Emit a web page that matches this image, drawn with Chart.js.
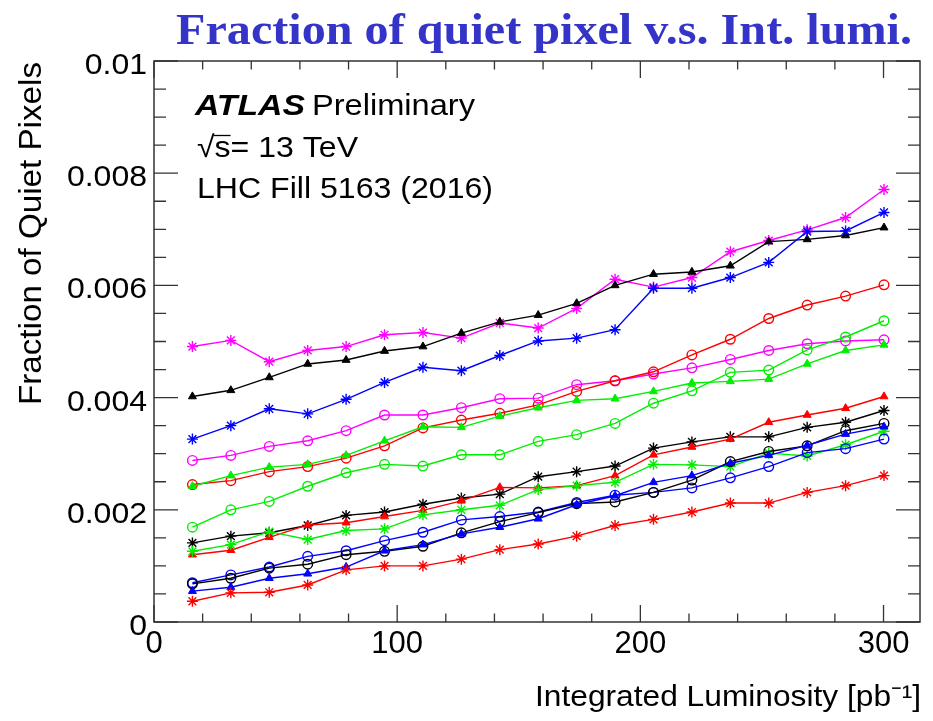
<!DOCTYPE html>
<html>
<head>
<meta charset="utf-8">
<script src="https://cdn.jsdelivr.net/npm/chart.js@4.4.1/dist/chart.umd.min.js"></script>
<style>
  html, body { margin: 0; padding: 0; background: #fff; }
  canvas { display: block; }
</style>
</head>
<body>
<canvas id="quietChart" width="933" height="721"></canvas>
<script>
// integrated luminosity [pb^-1]
const lumi = [15.8, 31.6, 47.4, 63.2, 79.0, 94.8, 110.6, 126.4, 142.2, 158.0,
              173.8, 189.6, 205.4, 221.2, 237.0, 252.8, 268.6, 284.4, 300.2];

// fraction of quiet pixels, one list per graph
const magentaStar   = [0.00491, 0.00502, 0.00464, 0.00484, 0.00491, 0.00512, 0.00516, 0.00506, 0.00533, 0.00524, 0.00559, 0.00611, 0.00597, 0.00614, 0.00660, 0.00680, 0.00699, 0.00721, 0.00771];
const blackTriangle = [0.00402, 0.00413, 0.00436, 0.00460, 0.00467, 0.00483, 0.00491, 0.00515, 0.00535, 0.00547, 0.00568, 0.00600, 0.00620, 0.00624, 0.00635, 0.00678, 0.00682, 0.00689, 0.00703];
const blueStar      = [0.00326, 0.00350, 0.00380, 0.00371, 0.00397, 0.00427, 0.00454, 0.00448, 0.00475, 0.00501, 0.00506, 0.00521, 0.00595, 0.00595, 0.00614, 0.00641, 0.00696, 0.00697, 0.00730];
const redCircle     = [0.00245, 0.00252, 0.00268, 0.00277, 0.00292, 0.00314, 0.00346, 0.00360, 0.00372, 0.00387, 0.00411, 0.00430, 0.00446, 0.00476, 0.00504, 0.00541, 0.00565, 0.00581, 0.00601];
const magentaCircle = [0.00288, 0.00297, 0.00313, 0.00323, 0.00341, 0.00369, 0.00369, 0.00382, 0.00398, 0.00399, 0.00423, 0.00430, 0.00442, 0.00453, 0.00468, 0.00484, 0.00496, 0.00501, 0.00503];
const greenTriangle = [0.00242, 0.00261, 0.00276, 0.00281, 0.00297, 0.00323, 0.00348, 0.00347, 0.00367, 0.00382, 0.00395, 0.00398, 0.00411, 0.00426, 0.00429, 0.00433, 0.00460, 0.00484, 0.00494];
const greenCircle   = [0.00169, 0.00200, 0.00215, 0.00242, 0.00266, 0.00281, 0.00278, 0.00298, 0.00298, 0.00322, 0.00334, 0.00354, 0.00390, 0.00412, 0.00445, 0.00449, 0.00485, 0.00508, 0.00537];
const blackStar     = [0.00141, 0.00153, 0.00159, 0.00172, 0.00190, 0.00196, 0.00210, 0.00221, 0.00228, 0.00259, 0.00268, 0.00278, 0.00310, 0.00321, 0.00330, 0.00330, 0.00347, 0.00356, 0.00377];
const redTriangle   = [0.00120, 0.00128, 0.00151, 0.00173, 0.00177, 0.00188, 0.00199, 0.00216, 0.00240, 0.00239, 0.00243, 0.00261, 0.00298, 0.00312, 0.00326, 0.00356, 0.00369, 0.00381, 0.00402];
const greenStar     = [0.00126, 0.00138, 0.00161, 0.00147, 0.00163, 0.00166, 0.00191, 0.00200, 0.00208, 0.00236, 0.00243, 0.00249, 0.00281, 0.00280, 0.00277, 0.00301, 0.00296, 0.00316, 0.00340];
const blueCircle    = [0.00070, 0.00084, 0.00098, 0.00117, 0.00127, 0.00145, 0.00160, 0.00182, 0.00188, 0.00196, 0.00213, 0.00226, 0.00231, 0.00239, 0.00257, 0.00277, 0.00302, 0.00309, 0.00326];
const blackCircle   = [0.00068, 0.00078, 0.00096, 0.00103, 0.00120, 0.00126, 0.00135, 0.00159, 0.00179, 0.00195, 0.00211, 0.00214, 0.00231, 0.00253, 0.00286, 0.00304, 0.00314, 0.00341, 0.00354];
const blueTriangle  = [0.00055, 0.00062, 0.00078, 0.00086, 0.00098, 0.00127, 0.00138, 0.00157, 0.00169, 0.00184, 0.00209, 0.00225, 0.00249, 0.00261, 0.00283, 0.00297, 0.00315, 0.00335, 0.00348];
const redStar       = [0.00037, 0.00052, 0.00053, 0.00066, 0.00093, 0.00100, 0.00100, 0.00112, 0.00129, 0.00139, 0.00153, 0.00172, 0.00183, 0.00196, 0.00212, 0.00212, 0.00231, 0.00243, 0.00261];

// axis ticks
const xTickValues = [0, 100, 200, 300];
const xTickLabels = ['0', '100', '200', '300'];
const yTickValues = [0, 0.002, 0.004, 0.006, 0.008, 0.01];
const yTickLabels = ['0', '0.002', '0.004', '0.006', '0.008', '0.01'];

const SANS = "'Liberation Sans', Arial, Helvetica, sans-serif";
const SX = 1.067; // the picture is a bit wider than tall

function graph(values, color, marker) {
  return {
    data: lumi.map((x, i) => ({ x: x, y: values[i] })),
    borderColor: color,
    borderWidth: 1.4,
    pointStyle: marker,
    pointRadius: marker === 'triangle' ? 4.6 : marker === 'star' ? 5.5 : 4.8,
    pointBorderWidth: marker === 'triangle' ? 1 : 1.4,
    pointBorderColor: color,
    pointBackgroundColor: marker === 'triangle' ? color : 'rgba(0,0,0,0)',
    fill: false,
    tension: 0
  };
}

function stretchText(ctx, text, x, y, font, sx, align) {
  ctx.save();
  ctx.font = font;
  ctx.translate(x, y);
  ctx.scale(sx, 1);
  ctx.textAlign = align || 'left';
  ctx.textBaseline = 'alphabetic';
  ctx.fillText(text, 0, 0);
  ctx.restore();
}

function fitText(ctx, text, x, y, font, width, align) {
  ctx.font = font;
  const w = ctx.measureText(text).width;
  stretchText(ctx, text, x, y, font, width / w, align);
}

const rootFrame = {
  id: 'rootFrame',
  beforeDraw(chart) {
    const ctx = chart.ctx;
    ctx.save();
    ctx.fillStyle = '#fff';
    ctx.fillRect(0, 0, chart.width, chart.height);
    ctx.restore();
  },
  afterDraw(chart) {
    const ctx = chart.ctx;
    const a = chart.chartArea;
    const xs = chart.scales.x;
    const ys = chart.scales.y;
    ctx.save();

    // frame
    ctx.strokeStyle = '#333';
    ctx.lineWidth = 1.5;
    ctx.strokeRect(a.left, a.top, a.right - a.left, a.bottom - a.top);

    // x ticks, bottom and top, pointing inward
    ctx.lineWidth = 1.3;
    ctx.beginPath();
    for (let v = 0; v <= xs.max + 0.01; v += 20) {
      const px = xs.getPixelForValue(v);
      const len = v % 100 === 0 ? 17 : 8.5;
      ctx.moveTo(px, a.bottom); ctx.lineTo(px, a.bottom - len);
      ctx.moveTo(px, a.top); ctx.lineTo(px, a.top + len);
    }
    // y ticks, left and right
    for (let k = 0; k <= 20; k++) {
      const v = k * 0.0005;
      const py = ys.getPixelForValue(v);
      const len = k % 4 === 0 ? 24 : 12;
      ctx.moveTo(a.left, py); ctx.lineTo(a.left + len, py);
      ctx.moveTo(a.right, py); ctx.lineTo(a.right - len, py);
    }
    ctx.stroke();

    ctx.fillStyle = '#000';
    // y tick labels
    yTickValues.forEach((v, i) => {
      const py = ys.getPixelForValue(v);
      stretchText(ctx, yTickLabels[i], a.left - 7, py + 13, '30px ' + SANS, SX, 'right');
    });
    // x tick labels
    xTickValues.forEach((v, i) => {
      const px = xs.getPixelForValue(v);
      stretchText(ctx, xTickLabels[i], px, a.bottom + 31, '31px ' + SANS, 1.0, 'center');
    });

    // axis titles
    fitText(ctx, 'Integrated Luminosity [pb\u207B\u00B9]', 921, 706, '30px ' + SANS, 386, 'right');
    ctx.save();
    ctx.translate(41, 405);
    ctx.rotate(-Math.PI / 2);
    fitText(ctx, 'Fraction of Quiet Pixels', 0, 0, '32px ' + SANS, 343, 'left');
    ctx.restore();

    // ATLAS label
    fitText(ctx, 'ATLAS', 195, 115, 'italic bold 30px ' + SANS, 110, 'left');
    fitText(ctx, 'Preliminary', 312, 115, '30px ' + SANS, 163, 'left');
    ctx.font = '30px ' + SANS;
    const rootW = ctx.measureText('\u221A').width * SX;
    const sW = ctx.measureText('s').width * SX;
    fitText(ctx, '\u221As= 13 TeV', 197, 157, '30px ' + SANS, 161, 'left');
    ctx.lineWidth = 1.3;
    ctx.strokeStyle = '#000';
    ctx.beginPath();
    ctx.moveTo(197 + rootW - 1, 135.5);
    ctx.lineTo(197 + rootW + sW, 135.5);
    ctx.stroke();
    fitText(ctx, 'LHC Fill 5163 (2016)', 197, 198, '30px ' + SANS, 296, 'left');

    // page title
    ctx.fillStyle = '#3434c8';
    fitText(ctx, 'Fraction of quiet pixel v.s. Int. lumi.', 176, 44,
      "bold 45px 'Liberation Serif', 'Times New Roman', serif", 736, 'left');

    ctx.restore();
  }
};

const ctx = document.getElementById('quietChart').getContext('2d');
new Chart(ctx, {
  type: 'line',
  data: {
    datasets: [
      graph(redStar, '#ff0000', 'star'),
      graph(blueTriangle, '#0000ff', 'triangle'),
      graph(blackCircle, '#000000', 'circle'),
      graph(blueCircle, '#0000ff', 'circle'),
      graph(greenStar, '#00ee00', 'star'),
      graph(redTriangle, '#ff0000', 'triangle'),
      graph(blackStar, '#000000', 'star'),
      graph(greenCircle, '#00ee00', 'circle'),
      graph(greenTriangle, '#00ee00', 'triangle'),
      graph(redCircle, '#ff0000', 'circle'),
      graph(magentaCircle, '#ff00ff', 'circle'),
      graph(blueStar, '#0000ff', 'star'),
      graph(blackTriangle, '#000000', 'triangle'),
      graph(magentaStar, '#ff00ff', 'star')
    ]
  },
  options: {
    responsive: false,
    animation: false,
    devicePixelRatio: 1,
    layout: { padding: { left: 154, right: 13, top: 61, bottom: 99 } },
    scales: {
      x: { type: 'linear', min: 0, max: 315, display: false },
      y: { type: 'linear', min: 0, max: 0.01, display: false }
    },
    plugins: {
      legend: { display: false },
      tooltip: { enabled: false },
      title: { display: false }
    }
  },
  plugins: [rootFrame]
});
</script>
</body>
</html>
